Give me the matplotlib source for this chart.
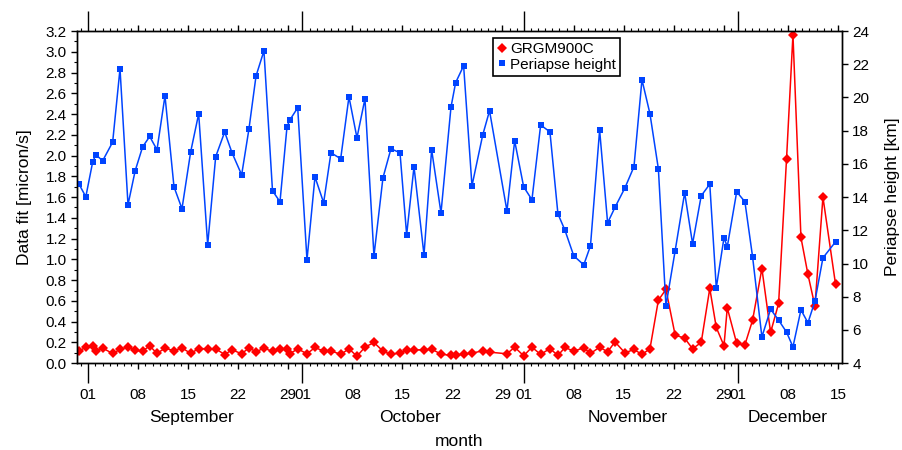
import numpy as np
import pandas as pd
import matplotlib
matplotlib.use('Agg')
import matplotlib.pyplot as plt
import matplotlib.dates as mdates
import matplotlib.ticker as mticker
from matplotlib.lines import Line2D
from matplotlib.transforms import blended_transform_factory

plt.rcParams['font.family'] = ['Liberation Sans', 'DejaVu Sans']

# days after 2012-09-01 for each arc
day_offset = [
    -1.30, -0.35, 0.61, 1.05, 2.01, 3.41, 4.44, 5.56, 6.56, 7.61,
    8.60, 9.62, 10.74, 12.00, 13.12, 14.34, 15.46, 16.72, 17.84, 19.10,
    20.13, 21.48, 22.50, 23.49, 24.60, 25.80, 26.85, 27.83, 28.22, 29.33,
    30.63, 31.75, 32.96, 33.99, 35.35, 36.51, 37.63, 38.75, 40.01, 41.27,
    42.39, 43.66, 44.59, 45.62, 47.02, 48.09, 49.40, 50.80, 51.45, 52.57,
    53.74, 55.24, 56.20, 58.64, 59.72, 60.98, 62.14, 63.36, 64.66, 65.78,
    66.76, 68.00, 69.40, 70.34, 71.62, 72.74, 73.77, 75.17, 76.43, 77.55,
    78.67, 79.85, 80.91, 82.20, 83.53, 84.64, 85.85, 87.05, 87.96, 89.04,
    89.50, 90.82, 91.97, 93.05, 94.35, 95.57, 96.69, 97.80, 98.70, 99.82,
    100.80, 101.78, 102.90, 104.67,
]

# GRGM900C data fit [micron/s]
data_fit = [
    0.116, 0.154, 0.161, 0.119, 0.145, 0.093, 0.132, 0.157, 0.122, 0.116,
    0.167, 0.093, 0.145, 0.119, 0.148, 0.093, 0.141, 0.138, 0.138, 0.083,
    0.129, 0.090, 0.148, 0.109, 0.145, 0.113, 0.138, 0.138, 0.090, 0.138,
    0.090, 0.151, 0.116, 0.119, 0.084, 0.138, 0.067, 0.154, 0.199, 0.116,
    0.084, 0.099, 0.122, 0.128, 0.128, 0.135, 0.087, 0.074, 0.077, 0.087,
    0.096, 0.119, 0.106, 0.090, 0.154, 0.071, 0.154, 0.084, 0.141, 0.074,
    0.151, 0.116, 0.148, 0.093, 0.154, 0.109, 0.205, 0.099, 0.132, 0.084,
    0.138, 0.607, 0.710, 0.270, 0.241, 0.138, 0.200, 0.720, 0.344, 0.167,
    0.533, 0.190, 0.177, 0.415, 0.912, 0.296, 0.575, 1.966, 3.164, 1.211,
    0.855, 0.549, 1.600, 0.758,
]

# periapse height [km]
periapse = [
    14.78, 14.02, 16.11, 16.55, 16.19, 17.31, 21.73, 13.54, 15.58, 17.03,
    17.65, 16.85, 20.10, 14.62, 13.30, 16.73, 19.02, 11.13, 16.43, 17.92,
    16.67, 15.34, 18.10, 21.29, 22.81, 14.38, 13.72, 18.23, 18.64, 19.38,
    10.22, 15.22, 13.66, 16.67, 16.31, 20.04, 17.57, 19.92, 10.46, 15.16,
    16.91, 16.67, 11.73, 15.83, 10.52, 16.85, 13.05, 19.42, 20.89, 21.91,
    14.68, 17.73, 19.20, 13.17, 17.39, 14.62, 13.84, 18.34, 17.93, 12.99,
    12.01, 10.46, 9.92, 11.07, 18.04, 12.45, 13.38, 14.56, 15.83, 21.07,
    19.02, 15.70, 7.45, 10.77, 14.26, 11.19, 14.08, 14.78, 8.54, 11.55,
    11.01, 14.32, 13.72, 10.39, 5.58, 7.25, 6.59, 5.87, 4.98, 7.21,
    6.43, 7.73, 10.34, 11.31,
]

month_names = ['September', 'October', 'November', 'December']
# first and last visible day of each month
month_span = [('2012-09-01', '2012-09-30'), ('2012-10-01', '2012-10-31'),
              ('2012-11-01', '2012-11-30'), ('2012-12-01', '2012-12-15')]

base = pd.Timestamp('2012-09-01')
dates = (base + pd.to_timedelta(day_offset, unit='D')).to_numpy()

red = '#ff0000'
blue = '#0044ff'

fig = plt.figure(figsize=(9.02, 4.5), dpi=100)
ax = fig.add_axes([0.0854, 0.193, 0.848, 0.738])
ax2 = ax.twinx()

ax.plot(dates, data_fit, color=red, lw=1.1, marker='D', ms=5.5, mew=0)
ax2.plot(dates, periapse, color=blue, lw=1.1, marker='s', ms=5, mew=0)

ax.set_xlim(base - pd.Timedelta(days=1.58), base + pd.Timedelta(days=105.56))
ax.set_ylim(0, 3.2)
ax2.set_ylim(4, 24)

# x ticks: labels every week, long ticks at month start
ax.xaxis.set_major_locator(mdates.DayLocator(bymonthday=[1, 8, 15, 22, 29]))
ax.xaxis.set_minor_locator(mdates.DayLocator())
ax.xaxis.set_major_formatter(mdates.DateFormatter('%d'))
ax.tick_params(axis='x', which='major', direction='out', length=4.5, width=1,
               pad=13.5, labelsize=11, top=True)
ax.tick_params(axis='x', which='minor', direction='out', length=2.5, width=0.8, top=True)
locs = ax.xaxis.get_majorticklocs()
for t, loc in zip(ax.xaxis.get_major_ticks(len(locs)), locs):
    if mdates.num2date(loc).day == 1:
        t.tick1line.set_markersize(14.5)
        t.tick2line.set_markersize(14.5)

ax.yaxis.set_major_locator(mticker.MultipleLocator(0.2))
ax.yaxis.set_minor_locator(mticker.MultipleLocator(0.1))
ax.yaxis.set_major_formatter(mticker.FormatStrFormatter('%.1f'))
ax.tick_params(axis='y', which='major', direction='out', length=4.5, width=1, labelsize=11, pad=3)
ax.tick_params(axis='y', which='minor', direction='out', length=2.5, width=0.8)

ax2.yaxis.set_major_locator(mticker.MultipleLocator(2))
ax2.tick_params(axis='y', which='major', direction='out', length=4.5, width=1, labelsize=11, pad=3)

for a in (ax, ax2):
    for s in a.spines.values():
        s.set_linewidth(1.0)

ax.set_ylabel('Data fit [micron/s]', fontsize=12.5, labelpad=10)
ax2.set_ylabel('Periapse height [km]', fontsize=12.5, labelpad=11)

trans = blended_transform_factory(ax.transData, ax.transAxes)
for name, (d0, d1) in zip(month_names, month_span):
    t0 = pd.Timestamp(d0)
    mid = t0 + (pd.Timestamp(d1) - t0) / 2
    ax.text(mid, -0.163, name, transform=trans, ha='center', va='center', fontsize=12.5)
ax.text(0.5, -0.235, 'month', transform=ax.transAxes, ha='center', va='center', fontsize=12.5)

handles = [Line2D([], [], color=red, marker='D', ls='none', ms=5.5, mew=0),
           Line2D([], [], color=blue, marker='s', ls='none', ms=5, mew=0)]
leg = ax2.legend(handles, ['GRGM900C', 'Periapse height'], loc='upper left',
                 bbox_to_anchor=(0.544, 0.98), borderaxespad=0, fontsize=11,
                 handlelength=0.5, handletextpad=0.3, borderpad=0.3, labelspacing=0.1,
                 fancybox=False, framealpha=1, edgecolor='black')
leg.get_frame().set_linewidth(1.2)

fig.savefig('out.png', dpi=100)
